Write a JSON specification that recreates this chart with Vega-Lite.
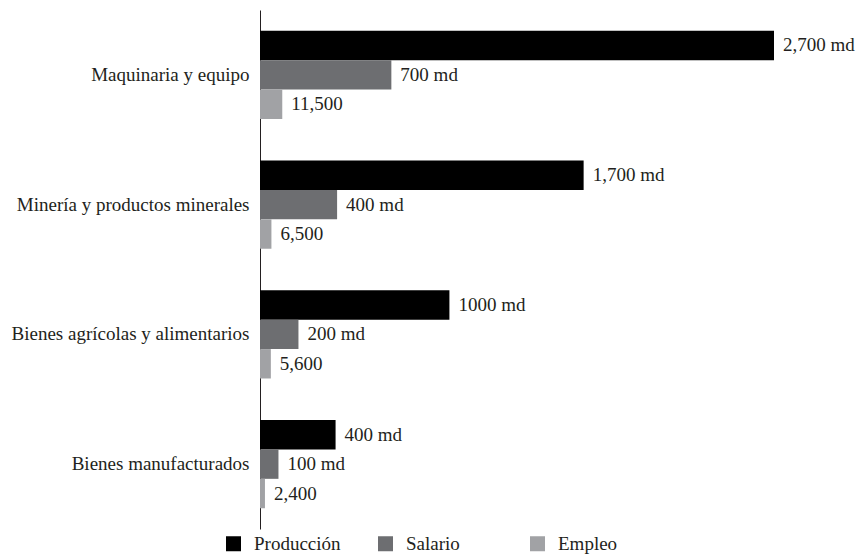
{
  "$schema": "https://vega.github.io/schema/vega-lite/v6.json",
  "width": 514,
  "height": 519,
  "autosize": {"type": "none"},
  "padding": {"left": 260, "top": 10, "right": 91, "bottom": 25},
  "background": "white",
  "config": {
    "view": {"stroke": null},
    "font": "Liberation Serif",
    "text": {"font": "Liberation Serif"}
  },
  "data": {
    "values": [
      {"categoria": "Maquinaria y equipo", "serie": "Producción", "valor": 2700, "etiqueta": "2,700 md"},
      {"categoria": "Maquinaria y equipo", "serie": "Salario", "valor": 690, "etiqueta": "700 md"},
      {"categoria": "Maquinaria y equipo", "serie": "Empleo", "valor": 117, "etiqueta": "11,500"},
      {"categoria": "Minería y productos minerales", "serie": "Producción", "valor": 1700, "etiqueta": "1,700 md"},
      {"categoria": "Minería y productos minerales", "serie": "Salario", "valor": 405, "etiqueta": "400 md"},
      {"categoria": "Minería y productos minerales", "serie": "Empleo", "valor": 60, "etiqueta": "6,500"},
      {"categoria": "Bienes agrícolas y alimentarios", "serie": "Producción", "valor": 995, "etiqueta": "1000 md"},
      {"categoria": "Bienes agrícolas y alimentarios", "serie": "Salario", "valor": 202, "etiqueta": "200 md"},
      {"categoria": "Bienes agrícolas y alimentarios", "serie": "Empleo", "valor": 57, "etiqueta": "5,600"},
      {"categoria": "Bienes manufacturados", "serie": "Producción", "valor": 397, "etiqueta": "400 md"},
      {"categoria": "Bienes manufacturados", "serie": "Salario", "valor": 97, "etiqueta": "100 md"},
      {"categoria": "Bienes manufacturados", "serie": "Empleo", "valor": 26, "etiqueta": "2,400"}
    ]
  },
  "encoding": {
    "y": {
      "field": "categoria",
      "type": "nominal",
      "sort": null,
      "scale": {"paddingInner": 0.32, "paddingOuter": 0.16},
      "axis": {
        "title": null,
        "ticks": false,
        "grid": false,
        "domain": true,
        "domainColor": "#231f20",
        "domainWidth": 1,
        "labelFont": "Liberation Serif",
        "labelFontSize": 19,
        "labelColor": "#231f20",
        "labelPadding": 11,
        "labelLimit": 300
      }
    },
    "yOffset": {
      "field": "serie",
      "type": "nominal",
      "sort": ["Producción", "Salario", "Empleo"],
      "scale": {"paddingInner": 0, "paddingOuter": 0}
    },
    "x": {
      "field": "valor",
      "type": "quantitative",
      "scale": {"domain": [0, 2700], "nice": false},
      "axis": null
    }
  },
  "layer": [
    {
      "mark": {"type": "bar", "cornerRadius": 0},
      "encoding": {
        "color": {
          "field": "serie",
          "type": "nominal",
          "scale": {
            "domain": ["Producción", "Salario", "Empleo"],
            "range": ["#000000", "#6d6e71", "#a1a2a5"]
          },
          "legend": {
            "title": null,
            "orient": "none",
            "direction": "horizontal",
            "legendX": -36,
            "legendY": 524,
            "padding": 0,
            "columns": 3,
            "gridAlign": "all",
            "columnPadding": 35,
            "symbolType": "square",
            "symbolSize": 225,
            "symbolStrokeWidth": 0,
            "symbolOpacity": 1,
            "labelOffset": 11,
            "labelFont": "Liberation Serif",
            "labelFontSize": 19,
            "labelColor": "#231f20"
          }
        }
      }
    },
    {
      "mark": {
        "type": "text",
        "align": "left",
        "baseline": "middle",
        "dx": 9,
        "font": "Liberation Serif",
        "fontSize": 19,
        "color": "#231f20"
      },
      "encoding": {
        "text": {"field": "etiqueta"}
      }
    }
  ]
}
